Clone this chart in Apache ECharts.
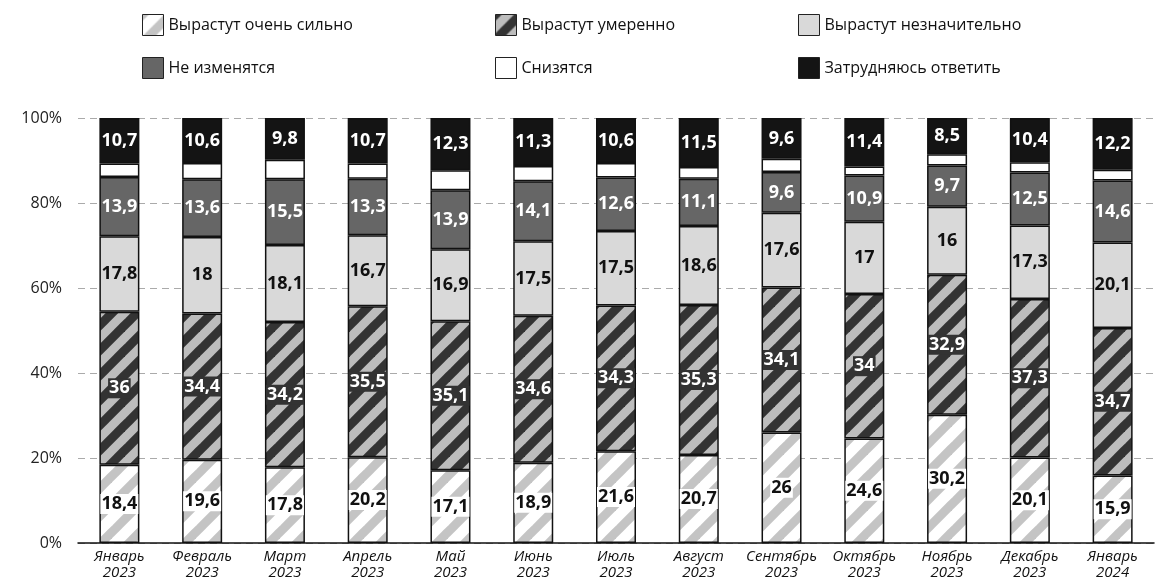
<!DOCTYPE html>
<html>
<head>
<meta charset="utf-8">
<script src="https://cdn.jsdelivr.net/npm/echarts@6/dist/echarts.min.js"></script>
<style>
  html, body { margin: 0; padding: 0; background: #fff; }
  #chart { width: 1157px; height: 583px; }
</style>
</head>
<body>
<div id="chart"></div>
<script>
// Месяцы опроса
const months = [
  'Январь\n2023', 'Февраль\n2023', 'Март\n2023', 'Апрель\n2023', 'Май\n2023',
  'Июнь\n2023', 'Июль\n2023', 'Август\n2023', 'Сентябрь\n2023', 'Октябрь\n2023',
  'Ноябрь\n2023', 'Декабрь\n2023', 'Январь\n2024'
];

// Доли ответов, %
const strongGrowth   = [18.4, 19.6, 17.8, 20.2, 17.1, 18.9, 21.6, 20.7, 26, 24.6, 30.2, 20.1, 15.9];
const moderateGrowth = [36, 34.4, 34.2, 35.5, 35.1, 34.6, 34.3, 35.3, 34.1, 34, 32.9, 37.3, 34.7];
const slightGrowth   = [17.8, 18, 18.1, 16.7, 16.9, 17.5, 17.5, 18.6, 17.6, 17, 16, 17.3, 20.1];
const noChange       = [13.9, 13.6, 15.5, 13.3, 13.9, 14.1, 12.6, 11.1, 9.6, 10.9, 9.7, 12.5, 14.6];
const decrease       = [3.2, 3.8, 4.6, 3.6, 4.7, 3.6, 3.4, 2.8, 3.1, 2.1, 2.7, 2.4, 2.5];
const noAnswer       = [10.7, 10.6, 9.8, 10.7, 12.3, 11.3, 10.6, 11.5, 9.6, 11.4, 8.5, 10.4, 12.2];

const yTicks = [0, 20, 40, 60, 80, 100];

const seriesNames = [
  'Вырастут очень сильно', 'Вырастут умеренно', 'Вырастут незначительно',
  'Не изменятся', 'Снизятся', 'Затрудняюсь ответить'
];

// Диагональная штриховка «/» для заливки столбцов
function stripes(bg, fg, size, width) {
  const c = document.createElement('canvas');
  c.width = size; c.height = size;
  const ctx = c.getContext('2d');
  ctx.fillStyle = bg;
  ctx.fillRect(0, 0, size, size);
  ctx.strokeStyle = fg;
  ctx.lineWidth = width;
  ctx.lineCap = 'square';
  [-size, 0, size].forEach(o => {
    ctx.beginPath();
    ctx.moveTo(o - 2, size + 2);
    ctx.lineTo(o + size + 2, -2);
    ctx.stroke();
  });
  return { image: c, repeat: 'repeat' };
}

const fontFamily = '"Open Sans", "Noto Sans", sans-serif';
const fmt = p => String(p.value).replace('.', ',');

function labelStyle(color, bg) {
  return {
    show: true,
    position: 'inside',
    formatter: fmt,
    fontFamily: fontFamily,
    fontWeight: 'bold',
    fontSize: 18,
    color: color,
    backgroundColor: bg || 'transparent',
    padding: bg ? [1, 1] : 0
  };
}

const border = { borderColor: '#111', borderWidth: 1.5 };

const seriesData = [strongGrowth, moderateGrowth, slightGrowth, noChange, decrease, noAnswer];
const fills = [
  stripes('#ffffff', '#c4c4c4', 28, 9),
  stripes('#bdbdbd', '#333333', 25, 9),
  '#d9d9d9',
  '#666666',
  '#ffffff',
  '#141414'
];
const labels = [
  labelStyle('#111', '#ffffff'),
  labelStyle('#ffffff', '#333333'),
  labelStyle('#111'),
  labelStyle('#ffffff'),
  { show: false },
  labelStyle('#ffffff')
];

const series = seriesNames.map((name, i) => ({
  name: name,
  type: 'bar',
  stack: 'total',
  barWidth: 40,
  data: seriesData[i],
  itemStyle: Object.assign({ color: fills[i] }, border),
  label: labels[i],
  emphasis: { disabled: true }
}));

// Легенда в три колонки и две строки
const legendPos = [
  [142, 14], [495, 14], [798, 14],
  [142, 57], [495, 57], [798, 57]
];
const legends = seriesNames.map((name, i) => ({
  data: [name],
  left: legendPos[i][0],
  top: legendPos[i][1],
  padding: 0,
  icon: 'rect',
  itemWidth: 21,
  itemHeight: 21,
  itemGap: 6,
  selectedMode: false,
  itemStyle: { borderColor: '#222', borderWidth: 1 },
  textStyle: { fontFamily: fontFamily, fontSize: 16, color: '#111' }
}));

const chart = echarts.init(document.getElementById('chart'), null, { renderer: 'canvas' });
chart.setOption({
  animation: false,
  backgroundColor: '#ffffff',
  legend: legends,
  grid: { left: 78, right: 3, top: 118, bottom: 40, containLabel: false },
  xAxis: {
    type: 'category',
    data: months,
    axisTick: { show: false },
    axisLine: { lineStyle: { color: '#111', width: 1.5 } },
    axisLabel: {
      interval: 0,
      margin: 6,
      fontFamily: fontFamily,
      fontStyle: 'italic',
      fontSize: 15,
      lineHeight: 16,
      color: '#111'
    }
  },
  yAxis: {
    type: 'value',
    min: yTicks[0],
    max: yTicks[yTicks.length - 1],
    interval: 20,
    axisLine: { show: false },
    axisTick: { show: false },
    axisLabel: {
      formatter: '{value}%',
      margin: 16,
      fontFamily: fontFamily,
      fontSize: 16,
      color: '#222'
    },
    splitLine: { lineStyle: { color: '#aaaaaa', type: [7, 5], width: 1 } }
  },
  series: series
});
</script>
</body>
</html>
